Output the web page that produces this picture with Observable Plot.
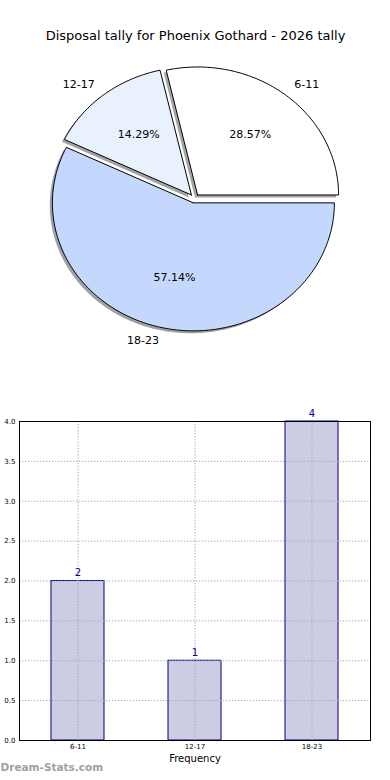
<!DOCTYPE html>
<html><head><meta charset="utf-8">
<script src="https://cdn.jsdelivr.net/npm/d3@7"></script>
<script src="https://cdn.jsdelivr.net/npm/@observablehq/plot@0.6"></script>
<style>
body{margin:0;background:#fff;font-family:"DejaVu Sans",sans-serif}
svg{display:block}
</style>
</head><body><div id="c"></div>
<script>
const title = "Disposal tally for Phoenix Gothard - 2026 tally";
const categories = ["6-11", "12-17", "18-23"];
const counts = [2, 1, 4];
const sliceColors = ["#ffffff", "#eaf1fe", "#c4d8fe"];
const yTicks = [0, 0.5, 1, 1.5, 2, 2.5, 3, 3.5, 4];
const xLabel = "Frequency";
const watermark = "Dream-Stats.com";

const total = d3.sum(counts);
const explode = 0.035;
let acc = 0;
const slices = categories.map((c, i) => {
  const a0 = acc, a1 = acc + counts[i] / total * 2 * Math.PI;
  acc = a1;
  const mid = (a0 + a1) / 2;
  return {c, i, a0, a1, mid, ox: explode * Math.cos(mid), oy: explode * Math.sin(mid),
          pct: (counts[i] / total * 100).toFixed(2) + "%"};
});
function slicePts(s) {
  const pts = [[s.ox, s.oy]];
  const n = Math.max(2, Math.ceil((s.a1 - s.a0) / (Math.PI / 180)));
  for (let k = 0; k <= n; k++) {
    const t = s.a0 + (s.a1 - s.a0) * k / n;
    pts.push([s.ox + Math.cos(t), s.oy + Math.sin(t)]);
  }
  pts.push([s.ox, s.oy]);
  return pts;
}
function shade(col) { const c = d3.rgb(col); return d3.rgb(c.r * 0.3, c.g * 0.3, c.b * 0.3).formatHex(); }

const font = "DejaVu Sans, sans-serif";
const pie = Plot.plot({
  width: 390, height: 390, margin: 0,
  style: {fontFamily: font, background: "#fff"},
  x: {domain: [-194 / 141, 196 / 141], axis: null},
  y: {domain: [-192 / 128, 198 / 128], axis: null},
  marks: [
    ...slices.map(s => Plot.line(slicePts(s), {x: d => d[0], y: d => d[1], fill: shade(sliceColors[s.i]), fillOpacity: 0.5, stroke: "none", dx: -2.6, dy: 2.4})),
    ...slices.map(s => Plot.line(slicePts(s), {x: d => d[0], y: d => d[1], fill: sliceColors[s.i], stroke: "#000", strokeWidth: 1, strokeLinejoin: "miter"})),
    Plot.text(slices, {filter: s => Math.cos(s.mid) >= 0, x: s => s.ox + 1.1 * Math.cos(s.mid), y: s => s.oy + 1.1 * Math.sin(s.mid), text: "c", textAnchor: "start", fontSize: 11, fill: "#000"}),
    Plot.text(slices, {filter: s => Math.cos(s.mid) < 0, x: s => s.ox + 1.1 * Math.cos(s.mid), y: s => s.oy + 1.1 * Math.sin(s.mid), text: "c", textAnchor: "end", fontSize: 11, fill: "#000"}),
    Plot.text(slices, {x: s => s.ox + 0.6 * Math.cos(s.mid), y: s => s.oy + 0.6 * Math.sin(s.mid), text: "pct", textAnchor: "middle", fontSize: 11, fill: "#000"}),
    Plot.text([title], {frameAnchor: "top", dy: 30, text: d => d, fontSize: 13, fill: "#000"})
  ]
});

const barData = categories.map((c, i) => ({c, n: counts[i]}));
const gridStyle = {stroke: "#aaaaaa", strokeOpacity: 1, strokeWidth: 1, strokeDasharray: "1.3,1.7"};
const bar = Plot.plot({
  width: 390, height: 390,
  marginLeft: 19, marginRight: 20, marginTop: 31, marginBottom: 40,
  style: {fontFamily: font, fontSize: "7px", background: "#fff", color: "#000"},
  x: {domain: categories, type: "band", paddingInner: 0.55, paddingOuter: 0.275, align: 0.5, axis: null},
  y: {domain: [0, 4], axis: null},
  marks: [
    Plot.barY(barData, {x: "c", y: "n", fill: "#cccce5", stroke: "#000080", strokeWidth: 1}),
    Plot.gridY(yTicks, gridStyle),
    Plot.gridX(categories, gridStyle),
    Plot.frame({stroke: "#000", strokeWidth: 1}),
    Plot.axisY(yTicks, {tickSize: 0, tickPadding: 4, tickFormat: d3.format(".1f"), label: null, fontSize: 7}),
    Plot.axisX(categories, {tickSize: 0, tickPadding: 4, label: null, fontSize: 7}),
    Plot.text(barData, {x: "c", y: "n", text: d => String(d.n), dy: -5, lineAnchor: "bottom", fill: "#00008b", fontSize: 10}),
    Plot.text([xLabel], {frameAnchor: "bottom", dy: 21, text: d => d, fontSize: 10, fill: "#000"}),
    Plot.text([watermark], {frameAnchor: "bottom-left", dx: -19, dy: 30, text: d => d, textAnchor: "start", fontSize: 10.5, fontWeight: "bold", fill: "#a0a0a0"})
  ]
});

document.getElementById("c").append(pie, bar);
</script>
</body></html>
